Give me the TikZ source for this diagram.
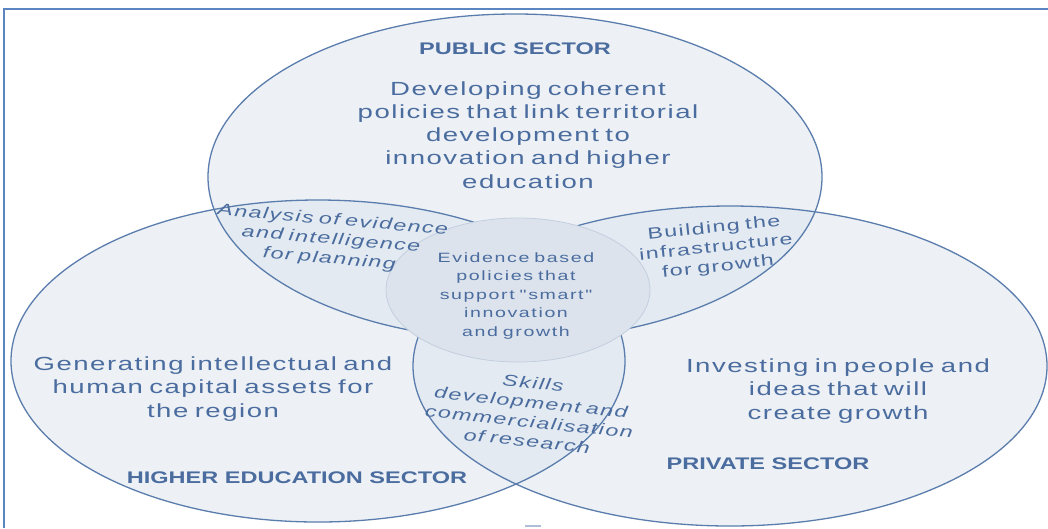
\documentclass[tikz,border=0pt]{standalone}
\usepackage{fontspec}
\setmainfont{Liberation Sans}
\newfontfamily\titlef{Liberation Sans}[FakeStretch=1.4]
\newfontfamily\mainf{Liberation Sans}[FakeStretch=1.45,LetterSpace=8,WordSpace=0.7]
\newfontfamily\smallf{Liberation Sans}[FakeStretch=1.45,LetterSpace=9,WordSpace=0.7]
\newfontfamily\coref{Liberation Sans}[FakeStretch=1.45,LetterSpace=12,WordSpace=0.7]
\usetikzlibrary{shapes.geometric}
\definecolor{ell}{HTML}{DDE4EE}
\definecolor{edge}{HTML}{5B7DAD}
\definecolor{txt}{HTML}{4A6C9E}
\definecolor{corefill}{HTML}{DCE3ED}
\definecolor{coreedge}{HTML}{C3CFDF}
\definecolor{framec}{HTML}{5B86C2}
\begin{document}
\begin{tikzpicture}[x=1pt,y=-1pt,
  zone/.style={ellipse, inner sep=0pt, fill=ell, fill opacity=0.5, draw=none},
  rim/.style={ellipse, inner sep=0pt, draw=edge, line width=1.3pt},
  sectortitle/.style={text=txt, inner sep=0pt, font=\titlef\bfseries\fontsize{16.8}{20}\selectfont},
  maintext/.style={text=txt, inner sep=0pt, align=center, font=\mainf\fontsize{19}{23.2}\selectfont},
  lenstext/.style={text=txt, inner sep=0pt, align=center, font=\smallf\fontsize{16}{19.5}\selectfont},
  lensitalic/.style={lenstext, font=\smallf\itshape\fontsize{16}{19.5}\selectfont},
  coretext/.style={text=txt, inner sep=0pt, align=center, font=\coref\fontsize{13.5}{18.5}\selectfont}
]
\useasboundingbox (0,0) rectangle (1048,528);
\fill[white] (0,0) rectangle (1048,528);
% frame
\draw[framec, line width=2pt] (3,9) -- (1048,9);
\draw[framec, line width=2pt] (4,9) -- (4,528);
% fills
\node[zone, minimum width=614pt, minimum height=326pt] (public) at (515,177) {};
\node[zone, minimum width=614pt, minimum height=322pt] (higher) at (318,361) {};
\node[zone, minimum width=634pt, minimum height=320pt] (private) at (730,366) {};
% outlines
\node[rim, minimum width=614pt, minimum height=326pt] (publicrim) at (public.center) {};
\node[rim, minimum width=614pt, minimum height=322pt] (higherrim) at (higher.center) {};
\node[rim, minimum width=634pt, minimum height=320pt] (privaterim) at (private.center) {};
% core
\node[ellipse, inner sep=0pt, fill=corefill, draw=coreedge, line width=0.8pt,
      minimum width=264pt, minimum height=144pt] (core) at (518,290) {};
% texts
\node[sectortitle] (publictitle) at (515,49) {PUBLIC SECTOR};
\node[maintext] (publictext) at (528,135) {Developing coherent\\policies that link territorial\\development to\\innovation and higher\\education};
\node[maintext] (highertext) at (213,389) {Generating intellectual and\\human capital assets for\\the region};
\node[sectortitle] (highertitle) at (297,478) {HIGHER EDUCATION SECTOR};
\node[maintext] (privatetext) at (838,391) {Investing in people and\\ideas that will\\create growth};
\node[sectortitle] (privatetitle) at (768,464) {PRIVATE SECTOR};
\node[lensitalic, rotate=-5] (analysis) at (331,240) {Analysis of evidence\\and intelligence\\for planning};
\node[lenstext, rotate=6] (building) at (716,248) {Building the\\infrastructure\\for growth};
\node[lensitalic, rotate=-6] (skills) at (530,412) {Skills\\development and\\commercialisation\\of research};
\node[coretext] (coretxt) at (516,296) {Evidence based\\policies that\\support "smart"\\innovation\\and growth};
% small mark at bottom
\draw[edge!50, line width=1.5pt] (525,526) -- (541,526);
\end{tikzpicture}
\end{document}
